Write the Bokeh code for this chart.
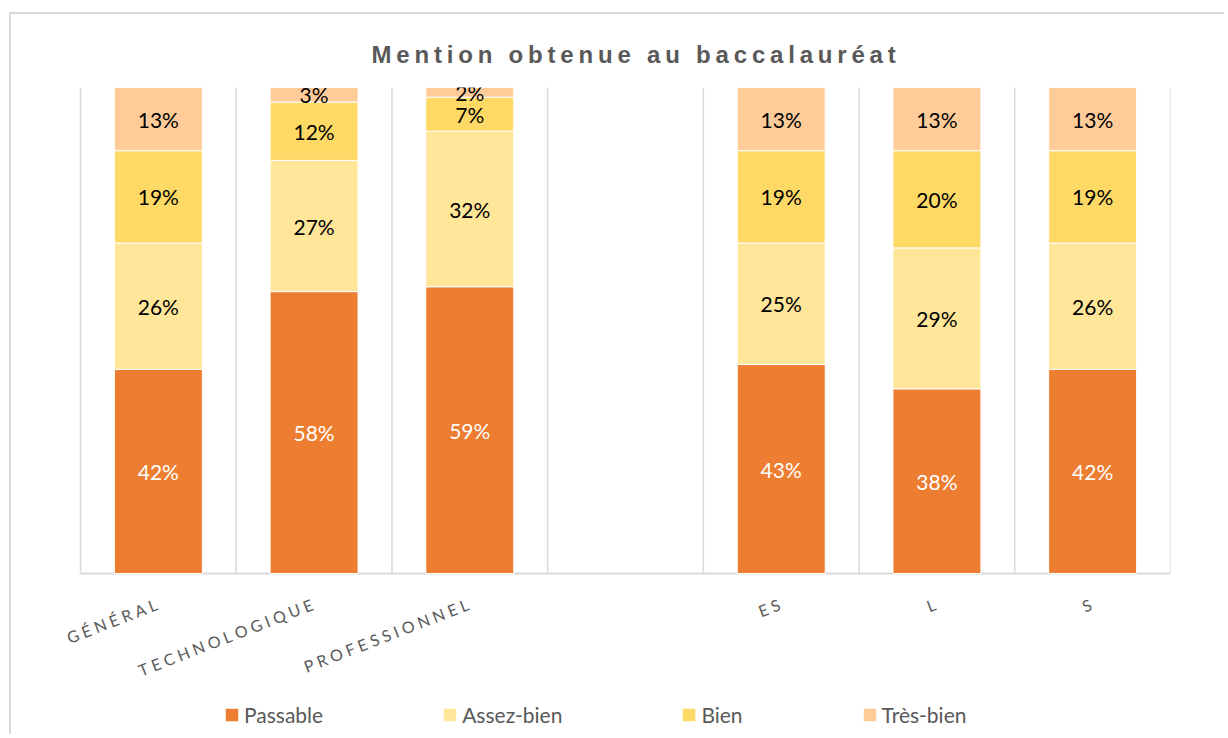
from bokeh.plotting import figure
from bokeh.models import Range1d, Legend, LegendItem, ColumnDataSource
from bokeh.core.properties import value
from bokeh.embed import file_html
from bokeh.resources import INLINE

# ---- data ----
categories = ["GÉNÉRAL", "TECHNOLOGIQUE", "PROFESSIONNEL", "", "ES", "L", "S"]
passable   = [42, 58, 59, 0, 43, 38, 42]
assez_bien = [26, 27, 32, 0, 25, 29, 26]
bien       = [19, 12, 7, 0, 19, 20, 19]
tres_bien  = [13, 3, 2, 0, 13, 13, 13]
series_names = ["Passable", "Assez-bien", "Bien", "Très-bien"]
title_text = "Mention obtenue au baccalauréat"

colors = ["#ED7D31", "#FFE699", "#FFD966", "#FFCC99"]
label_colors = ["#FFFFFF", "#000000", "#000000", "#000000"]
FONT = "Lato"
GRID = "#D9D9D9"

n = len(categories)
xs = [i + 0.5 for i in range(n)]
series = [passable, assez_bien, bien, tres_bien]
keys = ["s0", "s1", "s2", "s3"]

# only categories that hold data get a bar
keep = [i for i in range(n) if categories[i]]
src = ColumnDataSource(dict(x=[xs[i] for i in keep],
                            s0=[passable[i] for i in keep],
                            s1=[assez_bien[i] for i in keep],
                            s2=[bien[i] for i in keep],
                            s3=[tres_bien[i] for i in keep]))

# layout: each category slot is 155.714 px wide, 0..100 spans 486 px
PX_X = 1090 / n
FRAME_H = 649
y_min = -100.0 * (FRAME_H - 486) / 486
LEFT_PAD = 69          # px from frame left to the first separator
x_min = -LEFT_PAD / PX_X

p = figure(width=1215, height=722, output_backend="svg", toolbar_location=None,
           x_range=Range1d(x_min, n), y_range=Range1d(y_min, 100),
           min_border_left=0, min_border_right=56, min_border_top=722 - FRAME_H,
           min_border_bottom=0)
p.styles = {"margin-left": "9px", "margin-top": "12px",
            "border-left": "2px solid #D9D9D9", "border-top": "2px solid #D9D9D9"}
p.outline_line_color = None
p.axis.visible = False
p.grid.visible = False

# vertical separators between categories and the base line
p.segment(x0=list(range(n + 1)), y0=[0] * (n + 1), x1=list(range(n + 1)), y1=[100] * (n + 1),
          line_color=GRID, line_width=1.5)
p.segment(x0=[0], y0=[0], x1=[n], y1=[0], line_color=GRID, line_width=2)

renderers = p.vbar_stack(keys, x="x", width=0.565, source=src, color=colors,
                         line_color="white", line_width=1)

# data labels
for si, vals in enumerate(series):
    for ci, v in enumerate(vals):
        if v <= 0:
            continue
        bottom = sum(series[k][ci] for k in range(si))
        p.text(x=[xs[ci]], y=[bottom + v / 2], text=[f"{v}%"],
               text_align="center", text_baseline="middle",
               text_font=value(FONT), text_font_size="21px",
               text_color=label_colors[si])

# category labels (rotated, letter-spaced)
cat_x = [x for x, c in zip(xs, categories) if c]
cat_t = ["\u2009\u2009".join(list(c)) for c in categories if c]
p.text(x=cat_x, y=[0] * len(cat_x), text=cat_t, angle=0.37,
       text_align="right", text_baseline="middle", x_offset=-2, y_offset=30,
       text_font=value(FONT), text_font_size="16px", text_color="#595959")

# title
p.title.text = "\u2009".join(list(title_text))
p.title.align = "left"
p.title.offset = 360
p.title.text_font = "Liberation Sans"
p.title.text_font_style = "bold"
p.title.text_font_size = "24px"
p.title.text_color = "#595959"
p.title.standoff = 40

legend = Legend(items=[LegendItem(label=nm, renderers=[r]) for nm, r in zip(series_names, renderers)],
                orientation="horizontal", location=(212, 9),
                glyph_width=17, glyph_height=17, label_standoff=4, spacing=118,
                padding=0, margin=0, border_line_color=None, background_fill_alpha=0,
                label_text_font=FONT, label_text_font_size="21px", label_text_color="#595959")
p.add_layout(legend, "center")

open("out.html", "w").write(file_html(p, INLINE))
